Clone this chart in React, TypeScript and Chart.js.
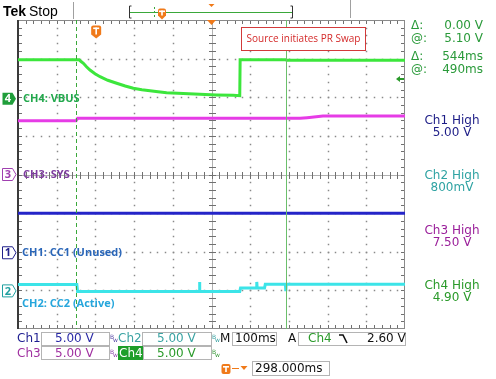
import React, { useEffect, useRef } from "react";
import { Chart, registerables } from "chart.js";
Chart.register(...registerables);

// time axis: ms relative to trigger, 100 ms/div, 10 divisions
const TIME_MIN = -202;
const TIME_MAX = 798;
const CURSOR_A = -51;
const CURSOR_B = 490;

// channel scales (V/div) and ground offsets (div)
const VDIV = 5;
const CH4_OFFSET = 2;
const CH3_OFFSET = 0;
const CH1_OFFSET = -2;
const CH2_OFFSET = -3;

// CH4: VBUS
const ch4Time = [-202, -44, -39, -33, -25, -16, -3, 10, 30, 53, 75, 96, 118, 139, 160, 182, 225, 268, 310, 354, 371, 372, 490, 492, 798];
const ch4Volt = [4.85, 4.85, 4.62, 4.39, 3.95, 3.53, 3.05, 2.66, 2.2, 1.81, 1.45, 1.16, 0.98, 0.85, 0.72, 0.59, 0.47, 0.38, 0.3, 0.25, 0.2, 4.85, 4.85, 4.78, 4.78];
// CH3: SYS
const ch3Time = [-202, -52, -48, 527, 545, 586, 798];
const ch3Volt = [6.96, 6.96, 7.27, 7.27, 7.35, 7.57, 7.57];
// CH1: CC1 (Unused)
const ch1Time = [-202, 798];
const ch1Volt = [4.97, 4.97];
// CH2: CC2 (Active)
const ch2Time = [-202, -50, -48, 266, 267, 268, 371, 373, 414, 415, 416, 435, 437, 489, 490, 491, 798];
const ch2Volt = [0.75, 0.75, -0.15, -0.15, 1.1, -0.15, -0.15, 0.3, 0.3, 1.1, 0.3, 0.3, 0.8, 0.8, -0.1, 0.8, 0.8];

const cursorReadout = [
  ["Δ:", "0.00 V"],
  ["@:", "5.10 V"],
  ["Δ:", "544ms"],
  ["@:", "490ms"],
];
const highLabels = [
  ["Ch1 High", "5.00 V", "#1c1c86"],
  ["Ch2 High", "800mV", "#2fa3a3"],
  ["Ch3 High", "7.50 V", "#9a1f9a"],
  ["Ch4 High", "4.90 V", "#2a9a2a"],
];

const pts = (t: number[], v: number[]) => t.map((x, i) => ({ x, y: v[i] }));
const axis = (offset: number) => ({
  type: "linear" as const,
  display: false,
  min: -(4 + offset) * VDIV,
  max: (4 - offset) * VDIV,
});

function txt(ctx: CanvasRenderingContext2D, s: string, x: number, y: number, font: string, color: string, align: CanvasTextAlign = "left") {
  ctx.font = font;
  ctx.fillStyle = color;
  ctx.textAlign = align;
  ctx.textBaseline = "middle";
  ctx.fillText(s, x, y);
}

function tIcon(ctx: CanvasRenderingContext2D, cx: number, cy: number, w: number, h: number, pointed: boolean) {
  ctx.fillStyle = "#f07a1a";
  ctx.beginPath();
  const l = cx - w / 2, r = cx + w / 2, t = cy - h / 2, b = cy + h / 2;
  ctx.moveTo(l + 2, t);
  ctx.lineTo(r - 2, t);
  ctx.quadraticCurveTo(r, t, r, t + 2);
  ctx.lineTo(r, b - 2);
  if (pointed) {
    ctx.lineTo(cx, b + 2);
    ctx.lineTo(l, b - 2);
  } else {
    ctx.quadraticCurveTo(r, b, r - 2, b);
    ctx.lineTo(l + 2, b);
    ctx.quadraticCurveTo(l, b, l, b - 2);
  }
  ctx.lineTo(l, t + 2);
  ctx.quadraticCurveTo(l, t, l + 2, t);
  ctx.fill();
  ctx.fillStyle = "#fff";
  ctx.fillRect(cx - 3, t + 2, 6, 1.6);
  ctx.fillRect(cx - 0.8, t + 2, 1.6, h - 4);
}

function downTri(ctx: CanvasRenderingContext2D, cx: number, y: number, w: number, h: number, color: string) {
  ctx.fillStyle = color;
  ctx.beginPath();
  ctx.moveTo(cx - w / 2, y);
  ctx.lineTo(cx + w / 2, y);
  ctx.lineTo(cx, y + h);
  ctx.closePath();
  ctx.fill();
}

function marker(ctx: CanvasRenderingContext2D, y: number, label: string, color: string, filled: boolean) {
  ctx.beginPath();
  ctx.moveTo(2.5, y - 6);
  ctx.lineTo(12.5, y - 6);
  ctx.lineTo(16, y);
  ctx.lineTo(12.5, y + 6);
  ctx.lineTo(2.5, y + 6);
  ctx.closePath();
  if (filled) {
    ctx.fillStyle = color;
    ctx.fill();
  } else {
    ctx.fillStyle = "#fff";
    ctx.fill();
    ctx.strokeStyle = color;
    ctx.lineWidth = 1;
    ctx.stroke();
  }
  txt(ctx, label, 8, y + 0.5, "bold 11px 'Open Sans'", filled ? "#fff" : color, "center");
}

function drawGrid(ctx: CanvasRenderingContext2D, a: any) {
  const w = a.right - a.left, h = a.bottom - a.top;
  const dx = w / 10, dy = h / 8;
  const cx = Math.round(a.left + 5 * dx);
  const cy = Math.round(a.top + 4 * dy);
  // dotted major lines
  ctx.fillStyle = "#8a8a8a";
  for (let i = 1; i < 10; i++) {
    if (i === 5) continue;
    const x = Math.round(a.left + i * dx);
    for (let k = 1; k < 40; k++) ctx.fillRect(x - 0.25, Math.round(a.top + (k * dy) / 5) - 0.25, 1.5, 1.5);
  }
  for (let j = 1; j < 8; j++) {
    if (j === 4) continue;
    const y = Math.round(a.top + j * dy);
    for (let k = 1; k < 50; k++) ctx.fillRect(Math.round(a.left + (k * dx) / 5) - 0.25, y - 0.25, 1.5, 1.5);
  }
  // center crosshair
  ctx.fillStyle = "#b0b0b0";
  ctx.fillRect(cx, a.top, 1, h);
  ctx.fillRect(a.left, cy, w, 1);
  // minor ticks on crosshair and border
  ctx.fillStyle = "#707070";
  for (let k = 1; k < 50; k++) {
    const x = Math.round(a.left + (k * dx) / 5);
    ctx.fillRect(x, cy - 3, 1, 7);
    ctx.fillRect(x, a.top, 1, 4);
    ctx.fillRect(x, a.bottom - 4, 1, 4);
  }
  for (let k = 1; k < 40; k++) {
    const y = Math.round(a.top + (k * dy) / 5);
    ctx.fillRect(cx - 3, y, 7, 1);
    ctx.fillRect(a.right - 4, y, 4, 1);
    ctx.fillRect(a.left, y, 4, 1);
  }
  // border
  ctx.fillStyle = "#8a8a8a";
  ctx.fillRect(a.left, a.top, w, 1);
  ctx.fillRect(a.left, a.bottom - 1, w, 1);
  ctx.fillRect(a.right - 1, a.top, 1, h);
  ctx.fillStyle = "#3a3a3a";
  ctx.fillRect(a.left - 1, a.top, 2, h);
}

const graticule = {
  id: "graticule",
  beforeDatasetsDraw(chart: any) {
    const { ctx, chartArea: a } = chart;
    ctx.save();
    drawGrid(ctx, a);
    ctx.restore();
  },
  afterDatasetsDraw(chart: any) {
    const { ctx, chartArea: a, scales } = chart;
    const xs = scales.x;
    ctx.save();
    // cursors
    const xa = Math.round(xs.getPixelForValue(CURSOR_A)) + 0.5;
    const xb = Math.round(xs.getPixelForValue(CURSOR_B)) + 0.5;
    ctx.lineWidth = 1;
    ctx.strokeStyle = "#3aa83a";
    ctx.setLineDash([4, 3]);
    ctx.beginPath();
    ctx.moveTo(xa, a.top);
    ctx.lineTo(xa, a.bottom);
    ctx.stroke();
    ctx.setLineDash([]);
    ctx.strokeStyle = "#6cbf6c";
    ctx.beginPath();
    ctx.moveTo(xb, a.top);
    ctx.lineTo(xb, a.bottom);
    ctx.stroke();

    // trigger markers
    const xt = xs.getPixelForValue(0);
    tIcon(ctx, xt, 31, 10, 11, true);
    const xc = (a.left + a.right) / 2;
    downTri(ctx, xc, a.top, 9, 5, "#f07a1a");

    // annotation box
    ctx.fillStyle = "#fff";
    ctx.fillRect(241, 27, 124, 23);
    ctx.strokeStyle = "#d23a3a";
    ctx.strokeRect(241.5, 27.5, 124, 23);
    txt(ctx, "Source initiates PR Swap", 303.5, 39, "10px 'Open Sans'", "#d42a2a", "center");

    // cursor level arrow
    ctx.fillStyle = "#2a9a2a";
    ctx.beginPath();
    ctx.moveTo(396, 79);
    ctx.lineTo(400, 76);
    ctx.lineTo(400, 82);
    ctx.closePath();
    ctx.fill();
    ctx.fillRect(399, 78, 5, 2);

    // channel labels and ground markers
    const g4 = scales.y4.getPixelForValue(0);
    const g3 = scales.y3.getPixelForValue(0);
    const g1 = scales.y1.getPixelForValue(0);
    const g2 = scales.y2.getPixelForValue(0);
    const lf = "bold 11px 'Open Sans'";
    txt(ctx, "CH4: VBUS", 23, g4 + 1.5, lf, "#22a84c");
    txt(ctx, "CH3: SYS", 23, g3, lf, "#7e3c9e");
    txt(ctx, "CH1: CC1 (Unused)", 22, g1 + 1, lf, "#2a66b8");
    txt(ctx, "CH2: CC2 (Active)", 22, g2 + 13, lf, "#26a6dc");
    marker(ctx, g4 + 1.5, "4", "#1f9e3a", true);
    marker(ctx, g3, "3", "#a040b0", false);
    marker(ctx, g1 + 1, "1", "#20208a", false);
    marker(ctx, g2 + 0.5, "2", "#20a0a0", false);
    ctx.restore();
  },
  afterDraw(chart: any) {
    const { ctx } = chart;
    ctx.save();
    // top bar
    txt(ctx, "Tek", 3, 12, "bold 14px 'Liberation Sans'", "#000");
    txt(ctx, "Stop", 29, 12, "14px 'Liberation Sans'", "#000");
    ctx.fillStyle = "#a0a0a0";
    ctx.fillRect(73, 2, 1, 17);
    ctx.fillRect(350, 0, 1, 18);
    ctx.strokeStyle = "#333";
    ctx.lineWidth = 1;
    ctx.beginPath();
    ctx.moveTo(131.5, 6);
    ctx.lineTo(129.5, 6);
    ctx.lineTo(129.5, 18);
    ctx.lineTo(131.5, 18);
    ctx.moveTo(290.5, 6);
    ctx.lineTo(292.5, 6);
    ctx.lineTo(292.5, 18);
    ctx.lineTo(290.5, 18);
    ctx.stroke();
    ctx.strokeStyle = "#3aa83a";
    ctx.beginPath();
    ctx.moveTo(130, 12.5);
    ctx.lineTo(292, 12.5);
    ctx.stroke();
    ctx.setLineDash([2, 2]);
    ctx.beginPath();
    ctx.moveTo(154.5, 7);
    ctx.lineTo(154.5, 18);
    ctx.stroke();
    ctx.setLineDash([]);
    tIcon(ctx, 162, 13, 8, 9, true);
    downTri(ctx, 211.5, 4, 6, 3, "#f07a1a");

    // right panel
    const gf = "12px 'DejaVu Sans'";
    const ry = [26, 39, 57, 70];
    cursorReadout.forEach(([l, v], i) => {
      txt(ctx, l, 411, ry[i], gf, "#2a9a3a");
      txt(ctx, v, 483, ry[i], gf, "#2a9a3a", "right");
    });
    const hy = [121, 176, 231, 286];
    highLabels.forEach(([a, b, c], i) => {
      txt(ctx, a, 452, hy[i], gf, c, "center");
      txt(ctx, b, 452, hy[i] + 12, gf, c, "center");
    });

    // bottom readouts
    const bf = "12px 'DejaVu Sans'";
    ctx.strokeStyle = "#b4b4b4";
    const box = (x: number, y: number, w: number, h: number) => ctx.strokeRect(x + 0.5, y + 0.5, w, h);
    box(41, 332, 68, 13);
    box(142, 332, 69, 13);
    box(232, 332, 44, 13);
    box(298, 332, 107, 13);
    box(41, 346, 68, 13);
    box(143, 346, 68, 13);
    box(252, 361, 77, 14);
    txt(ctx, "Ch1", 17, 339, bf, "#1c1c90");
    txt(ctx, "5.00 V", 55, 339, bf, "#2a2aa6");
    txt(ctx, "Ch2", 118, 339, bf, "#3aa3a3");
    txt(ctx, "5.00 V", 157, 339, bf, "#3aa3a3");
    txt(ctx, "M", 220, 339, bf, "#111");
    txt(ctx, "100ms", 235, 339, bf, "#111");
    txt(ctx, "A", 288, 339, bf, "#111");
    txt(ctx, "Ch4", 308, 339, bf, "#2a9a2a");
    txt(ctx, "2.60 V", 367, 339, bf, "#111");
    ctx.strokeStyle = "#111";
    ctx.lineWidth = 1.6;
    ctx.beginPath();
    ctx.moveTo(339, 335);
    ctx.lineTo(343, 335);
    ctx.lineTo(347, 343);
    ctx.stroke();
    ctx.lineWidth = 1;
    txt(ctx, "Ch3", 17, 354, bf, "#a030a0");
    txt(ctx, "5.00 V", 55, 354, bf, "#a030a0");
    ctx.fillStyle = "#1e9e2a";
    ctx.fillRect(118, 346, 25, 14);
    txt(ctx, "Ch4", 119, 354, bf, "#fff");
    txt(ctx, "5.00 V", 157, 354, bf, "#2a9a2a");
    const bw = (x: number, y: number, c: string) => {
      txt(ctx, "B", x, y - 2, "6px 'DejaVu Sans'", c);
      txt(ctx, "w", x + 3, y + 1, "6px 'DejaVu Sans'", c);
    };
    bw(110, 339, "#5a4aa8");
    bw(110, 354, "#8a4aa8");
    bw(212, 339, "#3aa3a3");
    bw(212, 354, "#3a9a3a");
    tIcon(ctx, 226, 369, 9, 10, false);
    ctx.strokeStyle = "#f07a1a";
    ctx.beginPath();
    ctx.moveTo(232, 368.5);
    ctx.lineTo(239, 368.5);
    ctx.stroke();
    downTri(ctx, 244, 366, 7, 4, "#f07a1a");
    txt(ctx, "298.000ms", 255, 368.5, bf, "#111");
    ctx.restore();
  },
};

export default function App() {
  const ref = useRef<HTMLCanvasElement>(null);
  useEffect(() => {
    if (!ref.current) return;
    const ds = (label: string, t: number[], v: number[], color: string, yAxisID: string) => ({
      label,
      data: pts(t, v),
      borderColor: color,
      borderWidth: 3,
      pointRadius: 0,
      tension: 0,
      fill: false,
      yAxisID,
    });
    const chart = new Chart(ref.current, {
      type: "line",
      data: {
        datasets: [
          ds("CH1", ch1Time, ch1Volt, "#2424c8", "y1"),
          ds("CH2", ch2Time, ch2Volt, "#3ce4e8", "y2"),
          ds("CH3", ch3Time, ch3Volt, "#e63ce6", "y3"),
          ds("CH4", ch4Time, ch4Volt, "#3ce63c", "y4"),
        ],
      },
      options: {
        responsive: false,
        animation: false,
        events: [],
        layout: { padding: { left: 18, top: 20, right: 91, bottom: 50 } },
        plugins: { legend: { display: false }, tooltip: { enabled: false } },
        scales: {
          x: { type: "linear", display: false, min: TIME_MIN, max: TIME_MAX },
          y1: axis(CH1_OFFSET),
          y2: axis(CH2_OFFSET),
          y3: axis(CH3_OFFSET),
          y4: axis(CH4_OFFSET),
        },
      },
      plugins: [graticule],
    });
    return () => chart.destroy();
  }, []);
  return (
    <div style={{ position: "fixed", left: 0, top: 0, width: 496, height: 379, background: "#fff" }}>
      <canvas ref={ref} width={496} height={379} style={{ width: 496, height: 379, display: "block" }} />
    </div>
  );
}
